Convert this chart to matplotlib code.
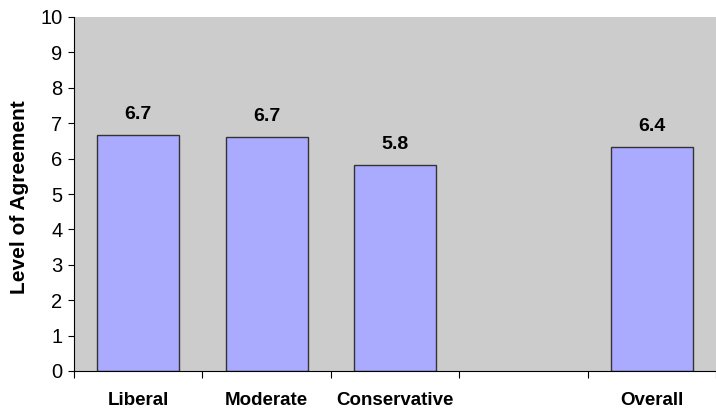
import matplotlib.pyplot as plt
import numpy as np

categories = ['Liberal', 'Moderate', 'Conservative', '', 'Overall']
values = [6.67, 6.62, 5.82, np.nan, 6.34]
labels = ['6.7', '6.7', '5.8', '', '6.4']

plt.rcParams['font.family'] = ['Liberation Sans', 'DejaVu Sans']

fig = plt.figure(figsize=(7.16, 4.2), dpi=100)
ax = fig.add_axes([74 / 716, 49 / 420, 1 - 74 / 716, 354 / 420])
ax.set_facecolor('#cccccc')

x = np.arange(len(categories))
ax.bar(x, values, width=0.64, color='#aaaaff', edgecolor='#333333', linewidth=1)
for xi, v, lb in zip(x, values, labels):
    if lb:
        ax.text(xi, v + 0.44, lb, ha='center', va='baseline', fontsize=14, fontweight='bold')

ax.set_xlim(-0.5, 4.44)
ax.set_ylim(0, 10)
ax.set_yticks(range(11))
ax.tick_params(axis='y', direction='out', length=4.3, labelsize=14.5, pad=4)

ax.set_xticks(np.arange(-0.5, 5, 1))
ax.set_xticklabels([])
ax.tick_params(axis='x', which='major', direction='out', length=5)
ax.set_xticks(x, minor=True)
ax.set_xticklabels(categories, minor=True, fontsize=13.5, fontweight='bold')
ax.tick_params(axis='x', which='minor', length=0, pad=15)

for s in ['top', 'right']:
    ax.spines[s].set_visible(False)
fig.text(20 / 716, 1 - 197 / 420, 'Level of Agreement', rotation=90, ha='center', va='center',
         fontsize=15, fontweight='bold')

fig.savefig('out.png', dpi=100)
